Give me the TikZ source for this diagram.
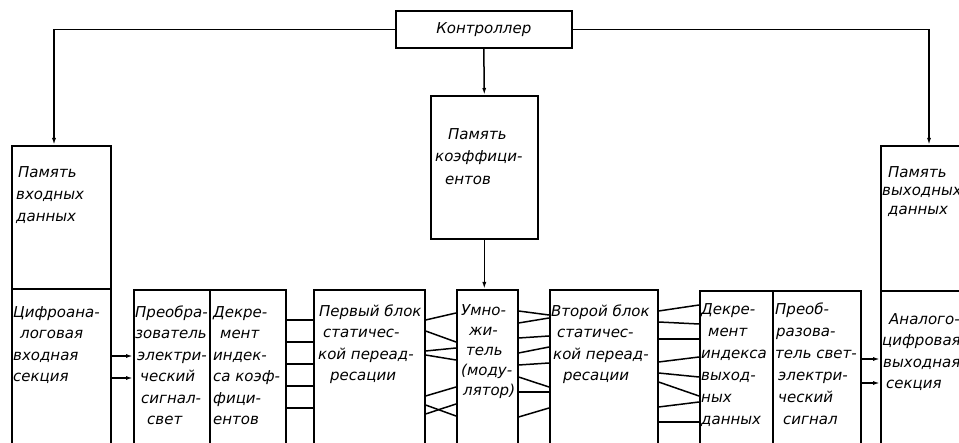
\documentclass[tikz,border=0pt]{standalone}
\usepackage{fontspec}
\setmainfont{DejaVu Sans}
\usetikzlibrary{arrows.meta}
\newcommand\fstrut{\rule{0pt}{15pt}}
\tikzset{
  box/.style={draw, line width=1.6pt, inner sep=0pt, anchor=north west},
  txt/.style={inner sep=0pt, anchor=north west, align=left, font=\fontsize{15}{21.5}\selectfont\itshape},
  wire/.style={line width=1.5pt},
  arr/.style={line width=1.5pt, -{Latex[length=7pt,width=4pt]}},
}
\begin{document}
\begin{tikzpicture}[x=1pt, y=-1pt]
\clip (0,0) rectangle (959,443);
% boxes
\node[box, minimum width=176, minimum height=37] (ctrl) at (395,10) {};
\node[box, minimum width=99, minimum height=143] (inmem) at (11,145) {};
\node[box, minimum width=99, minimum height=170] (dac) at (11,288) {};
\node[box, minimum width=107, minimum height=143] (cmem) at (430,95) {};
\node[box, minimum width=76, minimum height=170] (p1) at (133,289) {};
\node[box, minimum width=76, minimum height=170] (d1) at (209,289) {};
\node[box, minimum width=111, minimum height=170] (first) at (313,289) {};
\node[box, minimum width=61, minimum height=170] (mult) at (456,289) {};
\node[box, minimum width=108, minimum height=170] (second) at (549,289) {};
\node[box, minimum width=73, minimum height=170] (d2) at (699,290) {};
\node[box, minimum width=88, minimum height=170] (p2) at (772,290) {};
\node[box, minimum width=100, minimum height=145] (outmem) at (880,145) {};
\node[box, minimum width=100, minimum height=170] (adc) at (880,290) {};
% texts
\node[font=\fontsize{15}{18}\selectfont\itshape, inner sep=0pt] (ctrl-t) at (ctrl.center) {Контроллер};
\node[txt, font=\fontsize{15}{22}\selectfont\itshape] (inmem-t) at (16,162) {\fstrut\hspace*{2pt}Память\\входных\\данных};
\node[txt, font=\fontsize{15}{22.5}\selectfont\itshape] (cmem-t) at (435,124) {\fstrut\hspace*{13pt}Память\\коэффици-\\\hspace*{10pt}ентов};
\node[txt, font=\fontsize{15}{18.5}\selectfont\itshape] (outmem-t) at (882,162) {\fstrut\hspace*{6pt}Память\\выходных\\\hspace*{6pt}данных};
\node[txt] (dac-t) at (13,302) {\fstrut Цифроана-\\\hspace*{7pt}логовая\\входная\\секция};
\node[txt] (p1-t) at (135,302) {\fstrut Преобра-\\зователь\\\hspace*{2pt}электри-\\\hspace*{5pt}ческий\\\hspace*{6pt}сигнал-\\\hspace*{12pt}свет};
\node[txt] (d1-t) at (213,302) {\fstrut Декре-\\\hspace*{7pt}мент\\индек-\\са коэф-\\фици-\\ентов};
\node[txt] (first-t) at (318,301) {\fstrut\hspace*{1pt}Первый блок\\\hspace*{5pt}статичес-\\кой переад-\\\hspace*{12pt}ресации};
\node[txt, font=\fontsize{15}{20}\selectfont\itshape] (mult-t) at (461,300) {\fstrut Умно-\\\hspace*{8pt}жи-\\\hspace*{5pt}тель\\(моду-\\\hspace*{2pt}лятор)};
\node[txt] (second-t) at (551,301) {\fstrut Второй блок\\\hspace*{6pt}статичес-\\\hspace*{2pt}кой переад-\\\hspace*{12pt}ресации};
\node[txt, font=\fontsize{15}{22}\selectfont\itshape] (d2-t) at (701,299) {\fstrut Декре-\\\hspace*{7pt}мент\\индекса\\выход-\\ных\\данных};
\node[txt, font=\fontsize{15}{22}\selectfont\itshape] (p2-t) at (775,299) {\fstrut Преоб-\\\hspace*{1pt}разова-\\тель свет-\\\hspace*{3pt}электри-\\\hspace*{3pt}ческий\\\hspace*{8pt}сигнал};
\node[txt] (adc-t) at (882,309) {\fstrut\hspace*{7pt}Аналого-\\цифровая\\\hspace*{1pt}выходная\\\hspace*{4pt}секция};
% controller connections
\draw[arr] (ctrl.west) -| (54,0 |- inmem.north);
\draw[arr] (ctrl.east) -| (929,0 |- outmem.north);
\draw[arr] (ctrl.south) -- (cmem.north);
\draw[arr] (cmem.south) -- (cmem.south |- mult.north);
% input / output arrows
\foreach \y in {356,378} \draw[arr] (dac.east |- 0,\y) -- (p1.west |- 0,\y);
\foreach \y in {359,383} \draw[arr] (p2.east |- 0,\y) -- (adc.west |- 0,\y);
% wires
\foreach \y in {320,342,364,386,408} \draw[wire] (d1.east |- 0,\y) -- (first.west |- 0,\y);
\foreach \a/\b in {320/313,331/342,351/348,355/360,396/387,405/416,414/404}
  \draw[wire] (first.east |- 0,\a) -- (mult.west |- 0,\b);
\foreach \a/\b in {311/315,323/318,338/336,353/347,365/363,377/387,392/392,417/408}
  \draw[wire] (mult.east |- 0,\a) -- (second.west |- 0,\b);
\foreach \a/\b in {311/305,322/324,339/339,362/357,373/377,382/396,407/402,422/422}
  \draw[wire] (second.east |- 0,\a) -- (d2.west |- 0,\b);
\end{tikzpicture}
\end{document}
